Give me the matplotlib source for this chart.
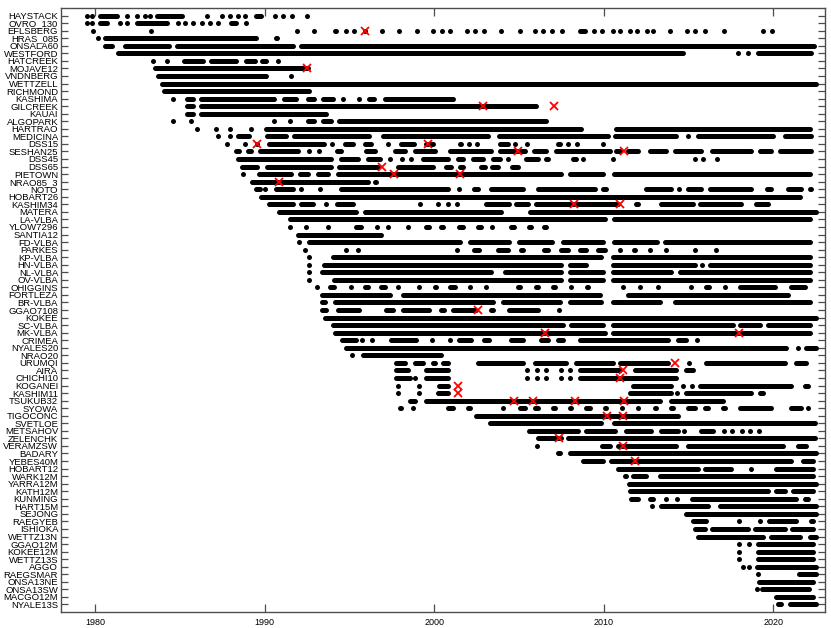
import matplotlib
matplotlib.use('Agg')
import matplotlib.pyplot as plt
from matplotlib.collections import LineCollection

# station names, top to bottom
stations = ['HAYSTACK', 'OVRO_130', 'EFLSBERG', 'HRAS_085', 'ONSALA60', 'WESTFORD',
            'HATCREEK', 'MOJAVE12', 'VNDNBERG', 'WETTZELL', 'RICHMOND', 'KASHIMA',
            'GILCREEK', 'KAUAI', 'ALGOPARK', 'HARTRAO', 'MEDICINA', 'DSS15', 'SESHAN25',
            'DSS45', 'DSS65', 'PIETOWN', 'NRAO85_3', 'NOTO', 'HOBART26', 'KASHIM34',
            'MATERA', 'LA-VLBA', 'YLOW7296', 'SANTIA12', 'FD-VLBA', 'PARKES', 'KP-VLBA',
            'HN-VLBA', 'NL-VLBA', 'OV-VLBA', 'OHIGGINS', 'FORTLEZA', 'BR-VLBA', 'GGAO7108',
            'KOKEE', 'SC-VLBA', 'MK-VLBA', 'CRIMEA', 'NYALES20', 'NRAO20', 'URUMQI', 'AIRA',
            'CHICHI10', 'KOGANEI', 'KASHIM11', 'TSUKUB32', 'SYOWA', 'TIGOCONC', 'SVETLOE',
            'METSAHOV', 'ZELENCHK', 'VERAMZSW', 'BADARY', 'YEBES40M', 'HOBART12', 'WARK12M',
            'YARRA12M', 'KATH12M', 'KUNMING', 'HART15M', 'SEJONG', 'RAEGYEB', 'ISHIOKA',
            'WETTZ13N', 'GGAO12M', 'KOKEE12M', 'WETTZ13S', 'AGGO', 'RAEGSMAR', 'ONSA13NE',
            'ONSA13SW', 'MACGO12M', 'NYALE13S']

# observing periods per station: (first, last) in decimal years (outer edge of the run),
# single sessions have first == last
sessions = [
    [(1979.51, 1979.51), (1979.81, 1979.81), (1980.18, 1981.47), (1981.87, 1981.87), (1982.46, 1982.46),
     (1982.95, 1982.95), (1983.24, 1983.24), (1983.54, 1985.31), (1986.59, 1986.59), (1987.47, 1987.47),
     (1987.96, 1987.96), (1988.44, 1988.44), (1988.85, 1988.85), (1989.32, 1989.91), (1990.62, 1990.62),
     (1991.09, 1991.09), (1991.62, 1991.62), (1992.51, 1992.51)],
    [(1979.51, 1979.51), (1979.81, 1979.81), (1980.18, 1980.88), (1981.47, 1981.47), (1981.87, 1981.87),
     (1982.36, 1984.42), (1984.90, 1984.90), (1985.31, 1985.31), (1985.78, 1985.78), (1986.31, 1986.31),
     (1986.78, 1986.78), (1987.26, 1987.26), (1987.85, 1988.44), (1988.91, 1988.91)],
    [(1979.86, 1979.86), (1980.47, 1980.77), (1983.30, 1983.30), (1991.90, 1991.90), (1992.92, 1992.92),
     (1993.98, 1994.34), (1994.81, 1994.81), (1995.28, 1995.28), (1995.93, 1995.93), (1996.91, 1996.91),
     (1997.94, 1997.94), (1998.98, 1998.98), (1999.94, 1999.94), (2000.44, 2000.44), (2000.94, 2000.94),
     (2001.92, 2001.92), (2002.42, 2002.42), (2002.91, 2002.91), (2003.83, 2004.01), (2004.95, 2005.19),
     (2005.96, 2005.96), (2006.43, 2006.43), (2006.96, 2006.96), (2007.55, 2007.55), (2008.44, 2009.03),
     (2009.44, 2009.44), (2009.91, 2009.91), (2010.56, 2010.56), (2010.97, 2010.97), (2011.56, 2011.56),
     (2011.98, 2011.98), (2012.57, 2012.57), (2012.92, 2012.92), (2013.92, 2013.92), (2014.92, 2014.92),
     (2015.40, 2015.40), (2015.99, 2015.99), (2016.99, 2017.17), (2018.64, 2018.94), (2019.41, 2019.41),
     (2019.94, 2019.94)],
    [(1980.20, 1980.20), (1980.45, 1989.63), (1990.50, 1990.91)],
    [(1980.47, 1981.18), (1981.65, 1984.54), (1984.72, 1991.80), (1991.98, 2022.54)],
    [(1981.24, 2014.81), (2017.94, 2017.94), (2018.53, 2018.53), (2018.94, 2022.36)],
    [(1983.44, 1983.44), (1984.19, 1984.31), (1985.11, 1986.49), (1986.67, 1988.44), (1988.73, 1989.56),
     (1989.73, 1990.21), (1990.80, 1990.80)],
    [(1983.40, 1992.68)],
    [(1983.60, 1990.21), (1991.56, 1991.56)],
    [(1983.79, 2022.65)],
    [(1983.93, 1992.78)],
    [(1983.93, 1984.23), (1984.52, 1984.72), (1985.31, 1985.90), (1986.09, 1990.72), (1991.01, 1991.99),
     (1992.39, 1993.08), (1993.27, 1994.16), (1994.60, 1994.60), (1995.44, 1995.73), (1996.03, 1996.62),
     (1996.97, 2001.24)],
    [(1984.42, 1984.72), (1985.31, 1985.90), (1986.08, 2006.14)],
    [(1984.42, 1984.72), (1985.31, 1985.90), (1986.08, 1993.75), (1993.98, 1994.28)],
    [(1984.62, 1984.62), (1985.64, 1985.64), (1990.45, 1990.62), (1991.40, 1991.60), (1992.39, 1993.08),
     (1993.27, 1994.06), (1994.25, 2006.74)],
    [(1986.04, 1986.04), (1987.08, 1987.20), (1987.90, 1988.05), (1989.05, 1989.32), (1989.91, 2008.79),
     (2010.56, 2022.30)],
    [(1987.27, 1987.27), (1987.96, 1987.96), (1988.26, 1989.24), (1989.97, 1991.40), (1991.60, 1996.32),
     (1996.81, 2003.30), (2003.70, 2010.38), (2010.54, 2014.41), (2014.99, 2014.99), (2015.40, 2020.12),
     (2020.51, 2022.34)],
    [(1987.81, 1987.81), (1988.85, 1988.85), (1989.58, 1989.58), (1990.09, 1993.67), (1993.96, 1993.96),
     (1994.61, 1995.34), (1995.79, 1996.42), (1997.27, 1997.27), (1997.89, 1998.97), (1999.37, 2000.06),
     (2001.36, 2001.71), (2002.07, 2002.07), (2002.54, 2002.54), (2003.72, 2004.48), (2004.78, 2004.78),
     (2005.49, 2005.49), (2007.14, 2007.55), (2007.91, 2007.91), (2008.44, 2008.44), (2009.97, 2009.97)],
    [(1988.14, 1988.67), (1988.85, 1989.32), (1989.56, 1992.09), (1992.51, 1992.68), (1993.16, 1993.27),
     (1994.10, 1994.63), (1995.16, 1995.46), (1995.81, 1996.64), (1997.52, 1998.41), (1998.70, 2000.18),
     (2000.77, 2003.48), (2003.72, 2005.49), (2005.72, 2006.73), (2007.02, 2010.50), (2010.56, 2011.09),
     (2011.27, 2012.15), (2012.57, 2013.81), (2014.04, 2015.87), (2016.22, 2018.82), (2019.06, 2020.00),
     (2020.24, 2022.36)],
    [(1988.26, 1994.04), (1994.34, 1995.63), (1995.93, 1996.93), (1997.40, 1997.40), (1997.99, 1998.17),
     (1998.58, 1998.70), (1999.17, 2000.94), (2001.24, 2001.83), (2002.12, 2003.01), (2003.30, 2004.01),
     (2004.37, 2004.37), (2005.25, 2006.25), (2006.43, 2006.84), (2007.31, 2007.61), (2008.03, 2008.50),
     (2008.79, 2008.79), (2010.56, 2010.56), (2015.40, 2015.40), (2015.87, 2015.87), (2016.70, 2016.70)],
    [(1988.55, 1989.73), (1989.97, 1994.04), (1994.22, 1996.81), (1997.70, 2000.06), (2000.53, 2001.12),
     (2001.36, 2001.83), (2002.12, 2002.42), (2002.60, 2003.13), (2003.24, 2003.89), (2004.42, 2005.07)],
    [(1988.71, 1988.71), (1989.50, 1991.68), (1991.92, 1992.68), (1992.98, 1993.86), (1994.16, 2007.61),
     (2007.85, 2010.09), (2010.44, 2022.30)],
    [(1989.14, 1996.22), (1996.34, 1996.70)],
    [(1989.32, 1989.85), (1990.03, 1990.03), (1990.50, 1991.80), (1991.98, 1992.27), (1993.10, 1993.39),
     (1994.34, 2000.94), (2001.36, 2001.53), (2002.18, 2002.71), (2003.18, 2005.37), (2005.96, 2009.62),
     (2009.79, 2010.27), (2012.33, 2014.10), (2014.46, 2014.46), (2014.81, 2015.87), (2016.10, 2018.82),
     (2019.47, 2020.00), (2020.71, 2021.77), (2022.00, 2022.36)],
    [(1989.62, 2021.71)],
    [(1990.13, 1991.80), (1992.00, 1992.98), (1993.47, 1993.76), (1994.10, 1995.34), (1999.02, 1999.28),
     (2000.06, 2000.35), (2000.65, 2000.94), (2001.33, 2001.33), (2002.91, 2004.58), (2004.68, 2005.66),
     (2005.86, 2010.97), (2011.76, 2012.15), (2013.23, 2015.40), (2015.50, 2018.25), (2018.84, 2019.82)],
    [(1990.68, 1995.52), (1995.75, 2004.07), (2005.49, 2022.65)],
    [(1991.33, 2010.21), (2010.44, 2022.30)],
    [(1991.50, 1991.50), (1992.45, 1992.45), (1993.57, 1993.86), (1994.55, 1994.85), (1995.24, 1995.83),
     (1996.52, 1996.72), (1997.21, 1997.40), (1998.39, 1998.58), (1999.37, 1999.86), (2000.25, 2000.65),
     (2001.34, 2001.83), (2002.42, 2002.91), (2003.40, 2003.40), (2004.38, 2004.87), (2005.47, 2005.86),
     (2006.35, 2006.74)],
    [(1991.80, 1996.99)],
    [(1992.05, 1992.05), (1992.45, 2001.65), (2001.95, 2004.55), (2004.84, 2007.08), (2007.43, 2010.09),
     (2010.44, 2013.27), (2013.45, 2022.30)],
    [(1992.39, 1992.39), (1994.81, 1994.81), (1995.50, 1995.50), (2001.33, 2001.33), (2002.22, 2002.81),
     (2003.60, 2004.48), (2004.97, 2005.37), (2005.76, 2006.06), (2006.35, 2006.84), (2007.33, 2008.02),
     (2008.42, 2009.10), (2009.50, 2010.19), (2010.97, 2010.97), (2011.66, 2011.96), (2012.74, 2012.74),
     (2013.69, 2013.69), (2015.40, 2015.40), (2016.64, 2016.64)],
    [(1992.64, 1992.64), (1993.86, 2009.97), (2010.38, 2022.30)],
    [(1992.64, 1992.64), (1993.37, 2007.61), (2007.85, 2009.09), (2009.32, 2009.62), (2009.79, 2010.09),
     (2010.38, 2015.52), (2015.81, 2015.81), (2016.11, 2022.30)],
    [(1992.64, 1992.64), (1993.23, 2003.48), (2004.01, 2007.61), (2007.85, 2010.09), (2010.38, 2014.10),
     (2014.34, 2022.30)],
    [(1992.64, 1992.64), (1993.96, 2007.61), (2007.85, 2010.09), (2010.38, 2022.30)],
    [(1993.08, 1993.08), (1993.69, 1994.22), (1995.09, 1995.09), (1995.75, 1996.22), (1996.70, 1997.23),
     (1997.89, 1997.89), (1999.13, 1999.13), (1999.88, 2000.24), (2000.77, 2001.36), (2002.12, 2002.12),
     (2002.89, 2003.18), (2003.89, 2004.19), (2004.78, 2005.19), (2005.84, 2006.25), (2006.84, 2007.25),
     (2007.91, 2008.20), (2008.85, 2009.20), (2009.91, 2010.21), (2011.13, 2011.13), (2012.15, 2012.15),
     (2013.18, 2013.18), (2015.16, 2015.16), (2015.85, 2016.34), (2017.17, 2017.17), (2017.88, 2020.24),
     (2020.88, 2022.00)],
    [(1993.22, 1997.52), (1997.99, 2009.91), (2011.27, 2021.00)],
    [(1993.22, 1993.69), (1993.98, 2003.60), (2003.89, 2007.55), (2007.85, 2009.97), (2010.38, 2013.45),
     (2014.04, 2022.30)],
    [(1993.23, 1993.76), (1994.16, 1995.73), (1997.01, 1997.70), (1997.99, 1999.86), (2000.25, 2000.75),
     (2000.94, 2002.61), (2003.20, 2003.60), (2004.29, 2006.25), (2007.33, 2007.33)],
    [(1993.39, 2022.65)],
    [(1993.39, 1993.69), (1993.86, 2007.73), (2007.91, 2010.09), (2010.38, 2017.76), (2017.88, 2019.35),
     (2019.53, 2022.30)],
    [(1993.45, 1993.75), (1993.98, 2010.21), (2010.38, 2022.30)],
    [(1994.41, 1995.53), (1995.73, 1995.73), (1996.32, 1996.32), (1997.31, 1999.08), (1999.86, 1999.86),
     (2000.35, 2000.65), (2000.94, 2000.94), (2001.30, 2002.32), (2002.81, 2003.40), (2004.38, 2005.37),
     (2006.15, 2006.84), (2007.14, 2007.73), (2008.42, 2013.92), (2014.22, 2015.00), (2015.50, 2015.50)],
    [(1994.63, 2020.88), (2021.30, 2021.59), (2021.77, 2022.65)],
    [(1995.14, 1995.14), (1995.63, 2000.53)],
    [(1997.58, 1998.41), (1998.70, 1999.47), (1999.76, 2000.18), (2000.35, 2000.94), (2001.53, 2001.83),
     (2002.42, 2005.37), (2005.78, 2007.91), (2008.20, 2010.68), (2010.79, 2013.92), (2014.93, 2015.10),
     (2015.87, 2020.83), (2021.18, 2022.06)],
    [(1997.60, 1998.58), (1999.37, 2000.94), (2005.47, 2005.47), (2006.06, 2006.06), (2006.61, 2006.61),
     (2007.47, 2007.47), (2008.02, 2008.02), (2008.44, 2011.09), (2011.68, 2014.40), (2014.69, 2015.40)],
    [(1997.58, 1998.70), (1998.88, 1998.88), (1999.35, 2000.94), (2005.47, 2005.47), (2006.06, 2006.06),
     (2006.61, 2006.61), (2007.47, 2007.47), (2008.02, 2008.02), (2008.44, 2014.40)],
    [(1997.89, 1997.89), (1999.13, 1999.13), (2000.15, 2000.94), (2011.56, 2014.10), (2014.69, 2014.69),
     (2015.22, 2015.22), (2015.52, 2021.18), (2021.71, 2022.18)],
    [(1997.89, 1997.89), (1999.13, 1999.13), (2000.06, 2000.94), (2011.39, 2014.10), (2014.34, 2014.34),
     (2014.69, 2018.82), (2019.06, 2019.53)],
    [(1998.41, 1999.00), (1999.35, 2013.45), (2013.80, 2017.17)],
    [(1997.82, 1998.17), (1998.76, 1998.76), (2000.65, 2001.24), (2001.83, 2002.24), (2002.83, 2003.13),
     (2004.07, 2004.07), (2004.90, 2005.49), (2005.78, 2006.25), (2006.84, 2007.25), (2007.85, 2008.20),
     (2008.79, 2009.32), (2009.91, 2010.27), (2011.09, 2011.09), (2011.86, 2012.15), (2012.86, 2013.21),
     (2013.81, 2014.22), (2014.81, 2015.52), (2015.81, 2016.28), (2016.87, 2017.29), (2017.88, 2020.00),
     (2020.88, 2021.77), (2022.06, 2022.06)],
    [(2002.30, 2014.51)],
    [(2003.13, 2009.97), (2010.44, 2022.59)],
    [(2005.47, 2008.61), (2008.81, 2010.78), (2011.17, 2012.94), (2013.23, 2014.51), (2014.71, 2014.71),
     (2015.60, 2016.58), (2017.07, 2017.07), (2017.56, 2017.56), (2018.15, 2018.15), (2018.64, 2018.64),
     (2019.13, 2019.13)],
    [(2005.96, 2007.61), (2007.73, 2022.59)],
    [(2006.06, 2006.06), (2009.73, 2010.50), (2010.68, 2014.40), (2014.81, 2020.71), (2021.30, 2022.06)],
    [(2007.14, 2007.55), (2007.85, 2022.65)],
    [(2008.61, 2010.09), (2010.27, 2021.18), (2021.59, 2022.48)],
    [(2010.68, 2015.69), (2015.81, 2017.64), (2018.53, 2018.82), (2020.00, 2022.48)],
    [(2011.09, 2011.45), (2011.56, 2012.62), (2013.16, 2022.48)],
    [(2011.33, 2022.65)],
    [(2011.39, 2019.82), (2020.00, 2020.83), (2021.00, 2022.48)],
    [(2011.45, 2012.15), (2012.57, 2013.04), (2013.69, 2013.69), (2014.34, 2014.34), (2015.04, 2021.48),
     (2021.71, 2022.18)],
    [(2012.84, 2012.84), (2013.22, 2016.28), (2016.70, 2022.65)],
    [(2014.69, 2022.65)],
    [(2015.10, 2016.16), (2017.99, 2017.99), (2019.06, 2019.35), (2019.59, 2021.48), (2022.06, 2022.48)],
    [(2015.22, 2016.10), (2016.22, 2018.64), (2018.76, 2020.83), (2020.94, 2022.48)],
    [(2015.40, 2019.53), (2019.71, 2021.71), (2022.00, 2022.65)],
    [(2017.99, 2017.99), (2018.54, 2018.54), (2018.94, 2022.48)],
    [(2017.99, 2017.99), (2018.94, 2022.48)],
    [(2017.99, 2017.99), (2018.94, 2022.48)],
    [(2018.19, 2018.19), (2018.58, 2018.58), (2018.88, 2022.65)],
    [(2019.08, 2019.08), (2021.36, 2022.65)],
    [(2019.00, 2022.48)],
    [(2019.04, 2019.04), (2019.17, 2022.24)],
    [(2020.00, 2022.48)],
    [(2020.12, 2020.59), (2020.83, 2022.65)],
]

# discontinuities (red crosses)
break_station = ['EFLSBERG', 'MOJAVE12', 'GILCREEK', 'GILCREEK', 'DSS15', 'DSS15', 'SESHAN25',
                 'SESHAN25', 'DSS65', 'PIETOWN', 'PIETOWN', 'NRAO85_3', 'KASHIM34', 'KASHIM34',
                 'GGAO7108', 'MK-VLBA', 'MK-VLBA', 'URUMQI', 'AIRA', 'CHICHI10', 'KOGANEI',
                 'KASHIM11', 'TSUKUB32', 'TSUKUB32', 'TSUKUB32', 'TSUKUB32', 'TIGOCONC',
                 'TIGOCONC', 'ZELENCHK', 'VERAMZSW', 'YEBES40M']
break_year = [1995.93, 1992.49, 2002.85, 2007.04, 1989.58, 1999.66, 2004.97, 2011.17,
              1996.91, 1997.66, 2001.53, 1990.87, 2008.26, 2010.97,
              2002.61, 2006.55, 2017.99, 2014.18, 2011.13, 2010.97, 2001.43,
              2001.43, 2004.68, 2005.82, 2008.32, 2011.21, 2010.19,
              2011.13, 2007.33, 2011.13, 2011.82]

plt.rcParams['font.family'] = ['Liberation Sans', 'DejaVu Sans']

fig = plt.figure(figsize=(8.31, 6.28), dpi=100)
ax = fig.add_axes([61 / 831, 1 - 612 / 628, 764 / 831, 604 / 628])
ax.set_xlim(1978, 2023.04)
ax.set_ylim(len(stations) + 1, 0)

dot_lw = 3.6  # points, same as the dot diameter
# half a dot in data units, so round caps end where the runs end
x0, x1 = ax.get_xlim()
px_per_year = ax.bbox.width / (x1 - x0)
cap = (dot_lw / 2 * fig.dpi / 72) / px_per_year

segs = []
dot_x, dot_y = [], []
for row, spans in enumerate(sessions, start=1):
    for a, b in spans:
        if b - a > 2 * cap:
            segs.append([(a + cap, row), (b - cap, row)])
        else:
            dot_x.append((a + b) / 2)
            dot_y.append(row)

ax.add_collection(LineCollection(segs, colors='black', linewidths=dot_lw, capstyle='round'))
ax.plot(dot_x, dot_y, 'o', color='black', ms=dot_lw, mew=0, ls='none')

break_row = [stations.index(s) + 1 for s in break_station]
ax.plot(break_year, break_row, 'x', color='red', ms=5.5, mew=1.3, ls='none')

ax.set_yticks(range(1, len(stations) + 1))
ax.set_yticklabels(stations, fontsize=6.8)
ax.set_xticks([1980, 1990, 2000, 2010, 2020])
ax.tick_params(axis='x', direction='in', top=True, length=6, width=0.9, color='0.3',
               labelsize=6.5, pad=4)
ax.tick_params(axis='y', direction='in', right=True, length=5, width=0.9, color='0.3', pad=2)
for sp in ax.spines.values():
    sp.set_color('0.3')
    sp.set_linewidth(1.0)

fig.savefig('out.png', dpi=100)
